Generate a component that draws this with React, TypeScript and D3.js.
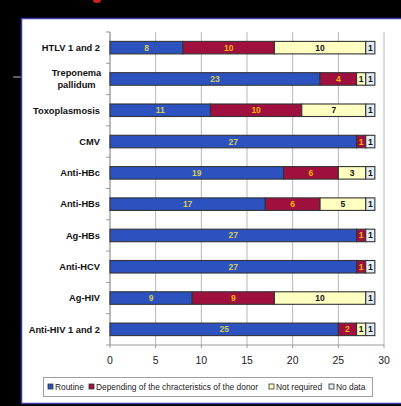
import React from "react";
import * as d3 from "d3";

const categories = [
  "HTLV 1 and 2",
  "Treponema\npallidum",
  "Toxoplasmosis",
  "CMV",
  "Anti-HBc",
  "Anti-HBs",
  "Ag-HBs",
  "Anti-HCV",
  "Ag-HIV",
  "Anti-HIV 1 and 2",
];
const seriesNames = [
  "Routine",
  "Depending of the chracteristics of the donor",
  "Not required",
  "No data",
];
const routine = [8, 23, 11, 27, 19, 17, 27, 27, 9, 25];
const depending = [10, 4, 10, 1, 6, 6, 1, 1, 9, 2];
const notRequired = [10, 1, 7, 0, 3, 5, 0, 0, 10, 1];
const noData = [1, 1, 1, 1, 1, 1, 1, 1, 1, 1];
const xTicks = [0, 5, 10, 15, 20, 25, 30];

const fills = ["#2B52BF", "#A0103E", "#FFFFC2", "#E2EDF5"];
const labelColors = ["#D6CC55", "#F5B400", "#111111", "#111111"];
const legendX = [48, 89, 269, 329];

export default function App() {
  const W = 401;
  const H = 406;
  const x = d3.scaleLinear().domain([0, 30]).range([110, 384]);
  const y = d3
    .scaleBand<string>()
    .domain(categories)
    .range([32, 345])
    .paddingInner(0.6)
    .paddingOuter(0.3);
  const series = [routine, depending, notRequired, noData];
  const rows = categories.map((c, i) => {
    let acc = 0;
    const segs = series.map((s, k) => {
      const v = s[i];
      const seg = { k, x0: acc, x1: acc + v, v };
      acc += v;
      return seg;
    });
    return { c, segs };
  });
  const bw = y.bandwidth();
  const step = y.step();
  const boundaries = d3.range(categories.length + 1).map((i) => 32 + i * step);

  return (
    <svg
      width={W}
      height={H}
      style={{ position: "absolute", left: 0, top: 0, display: "block" }}
      fontFamily="'Liberation Sans', Arial, sans-serif"
    >
      <rect x={0} y={0} width={W} height={H} fill="#000" />
      <ellipse cx={97} cy={0} rx={4} ry={3} fill="#d42020" />
      <line x1={13} x2={21} y1={77} y2={77} stroke="#bbb" strokeWidth={1} />
      <rect x={21.5} y={18.5} width={W} height={385} fill="#fff" stroke="#3a3aa8" strokeWidth={1.5} />

      {xTicks.map((t) => (
        <line key={t} x1={x(t)} x2={x(t)} y1={32} y2={345} stroke="#b8b8b8" strokeWidth={1} />
      ))}
      <line x1={110} x2={110} y1={32} y2={345} stroke="#999" strokeWidth={1} />
      {boundaries.map((b, i) => (
        <line key={i} x1={106} x2={110} y1={b} y2={b} stroke="#999" strokeWidth={1} />
      ))}
      <line x1={110} x2={384} y1={345} y2={345} stroke="#999" strokeWidth={1} />
      {xTicks.map((t) => (
        <line key={"t" + t} x1={x(t)} x2={x(t)} y1={345} y2={348} stroke="#999" strokeWidth={1} />
      ))}
      {xTicks.map((t) => (
        <text key={"l" + t} x={x(t)} y={364} fontSize={10.5} fill="#222" textAnchor="middle">
          {t}
        </text>
      ))}

      {rows.map((r) => {
        const y0 = y(r.c) as number;
        const cy = y0 + bw / 2;
        const lines = r.c.split("\n");
        return (
          <g key={r.c}>
            {r.segs
              .filter((s) => s.v > 0)
              .map((s) => (
                <rect
                  key={s.k}
                  x={x(s.x0)}
                  y={y0}
                  width={x(s.x1) - x(s.x0)}
                  height={bw}
                  fill={fills[s.k]}
                  stroke="#333"
                  strokeWidth={1.1}
                />
              ))}
            {r.segs
              .filter((s) => s.v > 0)
              .map((s) => (
                <text
                  key={"v" + s.k}
                  x={(x(s.x0) + x(s.x1)) / 2}
                  y={cy + 3}
                  fontSize={8.5}
                  fontWeight="bold"
                  fill={labelColors[s.k]}
                  textAnchor="middle"
                >
                  {s.v}
                </text>
              ))}
            {lines.length === 1 ? (
              <text x={100} y={cy + 3.3} fontSize={9.3} fontWeight="bold" fill="#111" textAnchor="end">
                {lines[0]}
              </text>
            ) : (
              lines.map((ln, j) => (
                <text
                  key={j}
                  x={76.5}
                  y={cy + 3.3 + (j - (lines.length - 1) / 2) * 12}
                  fontSize={9.3}
                  fontWeight="bold"
                  fill="#111"
                  textAnchor="middle"
                >
                  {ln}
                </text>
              ))
            )}
          </g>
        );
      })}

      <rect x={43.5} y={377.5} width={329} height={19} fill="#fff" stroke="#a0a0a0" strokeWidth={1} />
      {seriesNames.map((n, k) => (
        <g key={n}>
          <rect x={legendX[k]} y={384} width={5} height={5} fill={fills[k]} stroke="#333" strokeWidth={0.8} />
          <text x={legendX[k] + 7} y={389.5} fontSize={8.4} fill="#222">
            {n}
          </text>
        </g>
      ))}
    </svg>
  );
}
